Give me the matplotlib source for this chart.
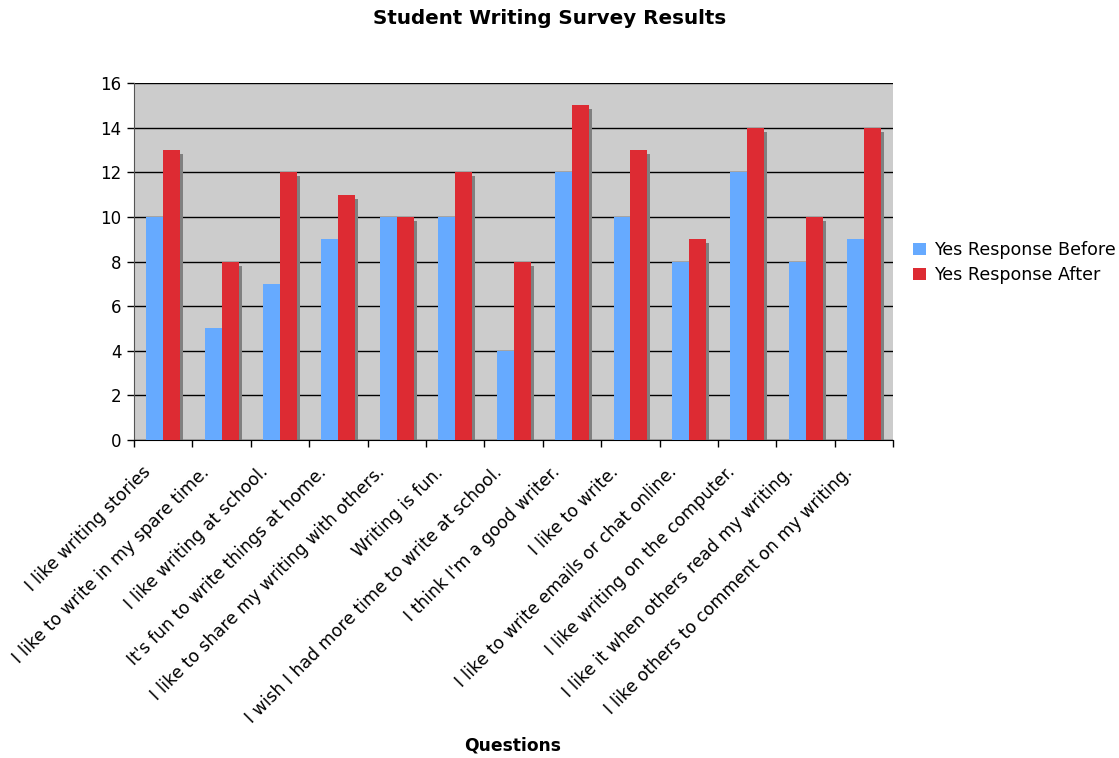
import matplotlib
matplotlib.use("Agg")
import matplotlib.pyplot as plt
import matplotlib.transforms as mtransforms
import numpy as np

questions = ["I like writing stories", "I like to write in my spare time.", "I like writing at school.",
             "It's fun to write things at home.", "I like to share my writing with others.", "Writing is fun.",
             "I wish I had more time to write at school.", "I think I'm a good writer.", "I like to write.",
             "I like to write emails or chat online.", "I like writing on the computer.",
             "I like it when others read my writing.", "I like others to comment on my writing."]
before = [10, 5, 7, 9, 10, 10, 4, 12, 10, 8, 12, 8, 9]
after = [13, 8, 12, 11, 10, 12, 8, 15, 13, 9, 14, 10, 14]
yticks = [0, 2, 4, 6, 8, 10, 12, 14, 16]

plt.rcParams['font.family'] = ['DejaVu Sans']
fig = plt.figure(figsize=(11.19, 7.58), dpi=100)
ax = fig.add_axes([0.1197, 0.4195, 0.6786, 0.471])
ax.set_facecolor('#CCCCCC')

x = np.arange(len(questions))
w = 0.29
blue = '#66AAFF'
red = '#DD2B33'
shadow_tr = mtransforms.offset_copy(ax.transData, fig=fig, x=3, y=-4, units='dots')
for vals, off in ((before, -w / 2), (after, w / 2)):
    ax.bar(x + off, vals, width=w, color='#808080', transform=shadow_tr, zorder=2, linewidth=0)
ax.bar(x - w / 2, before, width=w, color=blue, zorder=3, linewidth=0, label='Yes Response Before')
ax.bar(x + w / 2, after, width=w, color=red, zorder=3, linewidth=0, label='Yes Response After')

ax.set_xlim(-0.5, len(questions) - 0.5)
ax.set_ylim(0, 16)
ax.set_yticks(yticks)
ax.yaxis.grid(True, color='black', linewidth=1.0, zorder=1)
ax.set_axisbelow(True)
ax.set_xticks(x)
ax.set_xticklabels([''] * len(questions))
lab_tr = ax.get_xaxis_transform() + mtransforms.ScaledTranslation(-21 / 100, -23 / 100, fig.dpi_scale_trans)
for i, q in zip(x, questions):
    ax.text(i, 0, q, transform=lab_tr, rotation=45, ha='right', va='top', rotation_mode='anchor',
            fontsize=12.4, clip_on=False)
ax.set_xticks(np.arange(len(questions) + 1) - 0.5, minor=True)
ax.tick_params(axis='x', which='major', length=0)
ax.tick_params(axis='x', which='minor', length=5, width=1, color='black', direction='out')
ax.tick_params(axis='y', length=5, width=1, color='black', labelsize=12, direction='out', pad=4)
for s in ('top', 'right'):
    ax.spines[s].set_visible(False)
ax.spines['left'].set_color('#555555')
ax.spines['bottom'].set_color('black')

fig.text(0.4915, 0.975, 'Student Writing Survey Results', ha='center', va='center', fontsize=14.3, fontweight='bold')
fig.text(0.458, 0.005, 'Questions', ha='center', va='bottom', fontsize=12.3, fontweight='bold')

leg = ax.legend(loc='center left', bbox_to_anchor=(1.005, 0.497), frameon=False, fontsize=12.6,
                handlelength=0.75, handleheight=0.75, handletextpad=0.45, labelspacing=0.4)

fig.savefig('out.png', dpi=100)
